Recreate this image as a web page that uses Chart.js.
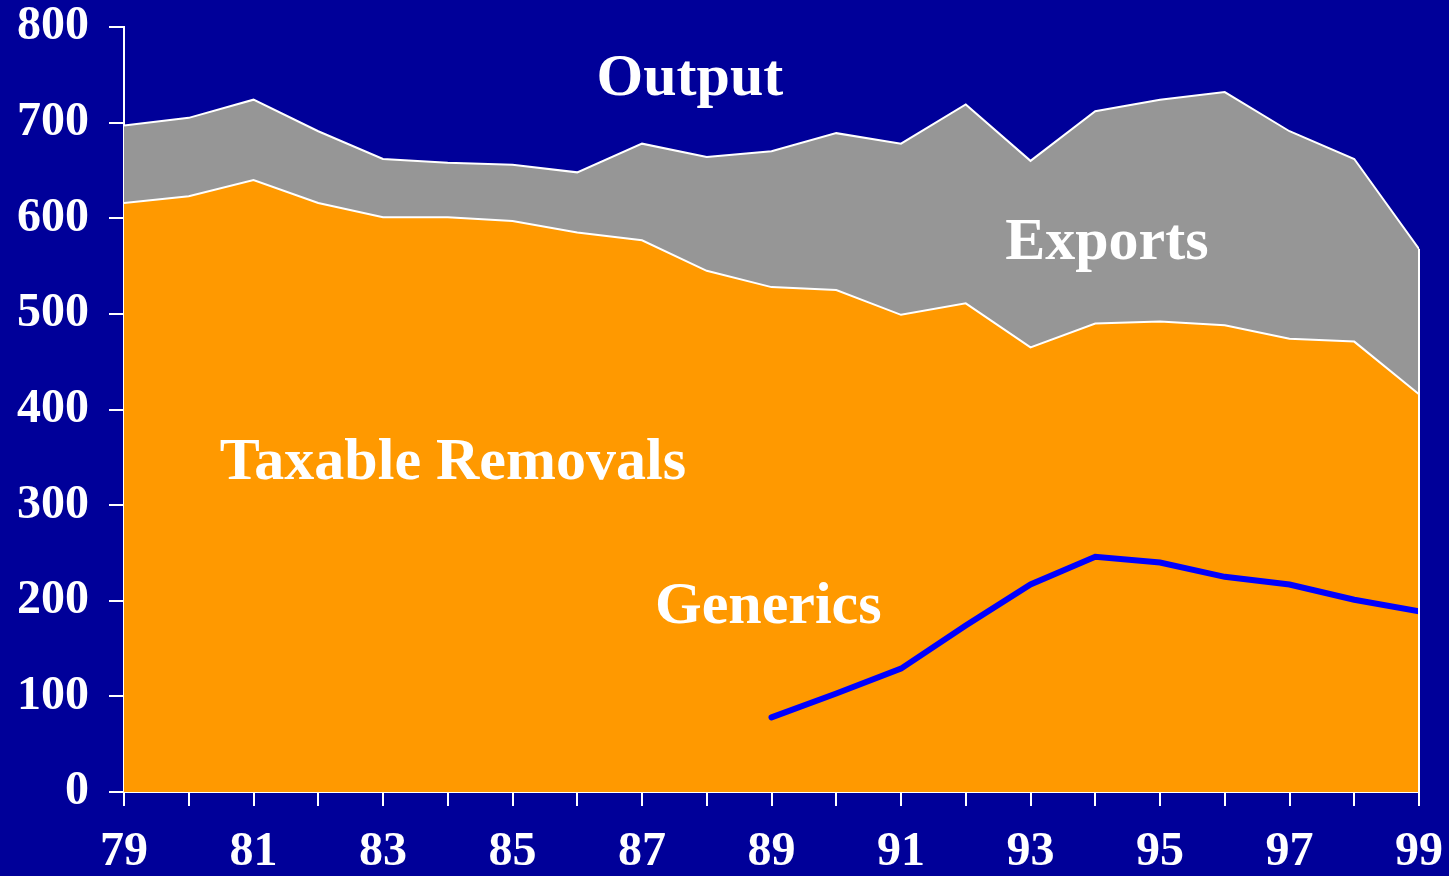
<!DOCTYPE html>
<html>
<head>
<meta charset="utf-8">
<script src="https://cdn.jsdelivr.net/npm/chart.js@4.4.1/dist/chart.umd.min.js"></script>
<style>
  html, body { margin: 0; padding: 0; background: #000099; }
  #wrap { width: 1449px; height: 876px; position: relative; }
</style>
</head>
<body>
<div id="wrap"><canvas id="chart"></canvas></div>
<script>
// years 1979..1999 (shown as 79..99)
const years = [79, 80, 81, 82, 83, 84, 85, 86, 87, 88, 89, 90, 91, 92, 93, 94, 95, 96, 97, 98, 99];
// taxable removals (orange area)
const taxable = [616, 623, 640, 616, 601, 601, 597, 585, 577, 545, 528, 525, 499, 511, 465, 490, 492, 488, 474, 471, 416];
// total output (top of grey area = taxable + exports)
const output = [697, 705, 724, 691, 662, 658, 656, 648, 678, 664, 670, 689, 678, 719, 660, 712, 724, 732, 691, 662, 568];
// generics line, starts in 89
const generics = [null, null, null, null, null, null, null, null, null, null, 78, 103, 129, 174, 217, 246, 240, 225, 217, 201, 189];
const yTicks = [0, 100, 200, 300, 400, 500, 600, 700, 800];

// text labels inside the chart (year, value)
const labelText = ['Output', 'Exports', 'Taxable Removals', 'Generics'];
const labelX = [87.74, 94.18, 84.08, 88.95];
const labelY = [745, 574, 344, 193];

const toPoints = arr => arr.map((v, i) => ({ x: years[i], y: v }));

const FONT = '"Liberation Serif", "Times New Roman", serif';

// draw the area labels + closing white edge at right side
const extras = {
  id: 'extras',
  afterDatasetsDraw(chart) {
    const ctx = chart.ctx;
    const xs = chart.scales.x, ys = chart.scales.y;
    // right edge of areas
    const outMeta = chart.getDatasetMeta(1);
    const last = outMeta.data[outMeta.data.length - 1];
    ctx.save();
    ctx.strokeStyle = '#ffffff';
    ctx.lineWidth = 2;
    ctx.beginPath();
    ctx.moveTo(last.x, last.y);
    ctx.lineTo(last.x, ys.getPixelForValue(0));
    ctx.stroke();
    ctx.restore();

    ctx.save();
    ctx.fillStyle = '#ffffff';
    ctx.font = 'bold 60px ' + FONT;
    ctx.textAlign = 'center';
    ctx.textBaseline = 'middle';
    labelText.forEach((t, i) => {
      ctx.fillText(t, xs.getPixelForValue(labelX[i]), ys.getPixelForValue(labelY[i]));
    });
    ctx.restore();
  }
};

function noPad(scale) {
  scale.paddingTop = 0;
  scale.paddingBottom = 0;
  scale.paddingLeft = 0;
  scale.paddingRight = 0;
}

new Chart(document.getElementById('chart'), {
  type: 'line',
  data: {
    datasets: [{
      label: 'Taxable Removals',
      data: toPoints(taxable),
      backgroundColor: '#ff9900',
      borderColor: '#ffffff',
      borderWidth: 2,
      fill: 'origin',
      pointRadius: 0,
      tension: 0,
      order: 1
    }, {
      label: 'Output',
      data: toPoints(output),
      backgroundColor: '#969696',
      borderColor: '#ffffff',
      borderWidth: 2,
      fill: '-1',
      pointRadius: 0,
      tension: 0,
      order: 2
    }, {
      label: 'Generics',
      data: toPoints(generics),
      borderColor: '#0000ff',
      borderWidth: 6,
      borderCapStyle: 'round',
      fill: false,
      pointRadius: 0,
      tension: 0,
      order: 0
    }]
  },
  options: {
    responsive: true,
    maintainAspectRatio: false,
    animation: false,
    layout: { padding: { left: 0, right: 30, top: 27, bottom: 0 } },
    plugins: {
      legend: { display: false },
      tooltip: { enabled: false }
    },
    scales: {
      x: {
        type: 'linear',
        min: years[0],
        max: years[years.length - 1],
        afterFit(scale) { scale.height = 84; noPad(scale); },
        afterBuildTicks(scale) { scale.ticks = years.map(v => ({ value: v })); },
        ticks: {
          autoSkip: false,
          maxRotation: 0,
          color: '#ffffff',
          font: { family: FONT, size: 48, weight: 'bold' },
          padding: 18,
          callback: v => (v % 2 === 1 ? String(v) : '')
        },
        grid: { drawOnChartArea: false, color: '#ffffff', lineWidth: 2, tickLength: 14 },
        border: { display: true, color: '#ffffff', width: 2 }
      },
      y: {
        min: 0,
        max: 800,
        afterFit(scale) { scale.width = 124; noPad(scale); },
        afterBuildTicks(scale) { scale.ticks = yTicks.map(v => ({ value: v })); },
        ticks: {
          color: '#ffffff',
          font: { family: FONT, size: 48, weight: 'bold' },
          padding: 20
        },
        grid: { drawOnChartArea: false, color: '#ffffff', lineWidth: 2, tickLength: 15 },
        border: { display: true, color: '#ffffff', width: 2 }
      }
    }
  },
  plugins: [extras]
});
</script>
</body>
</html>
